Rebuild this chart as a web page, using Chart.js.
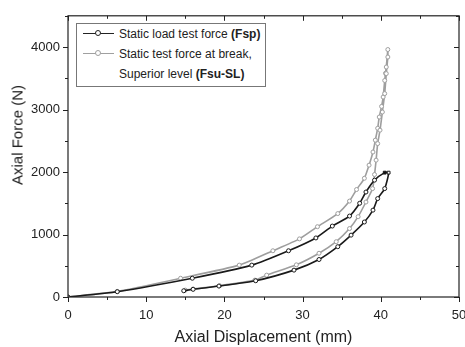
<!DOCTYPE html>
<html>
<head>
<meta charset="utf-8">
<script src="https://cdn.jsdelivr.net/npm/chart.js@4"></script>
<style>
  html, body { margin: 0; padding: 0; background: #fff; overflow: hidden; width: 465px; height: 347px; }
  #wrap { position: absolute; left: 0; top: 0; width: 480px; height: 347px; }
  .legend { position: absolute; left: 76px; top: 23px; width: 188px; height: 62px; border: 1px solid #777;
            font-family: "Liberation Sans", Arial, sans-serif; font-size: 12px; color: #222; background: #fff; }
  .row { position: absolute; left: 0; height: 20px; line-height: 20px; white-space: nowrap; }
  .swatch { position: absolute; left: 6px; top: 9px; width: 31px; height: 0; border-top: 1.5px solid #222; }
  .swatch i { position: absolute; left: 12px; top: -4px; width: 4px; height: 4px; border: 1px solid #222; border-radius: 50%; background: #fff; }
  .txt { position: absolute; left: 42px; top: 0; }
  .ytitle { position: absolute; left: 17px; top: 135px; transform: translate(-50%, -50%) rotate(-90deg);
            font-family: "Liberation Sans", Arial, sans-serif; font-size: 15px; color: #222; white-space: nowrap; }
</style>
</head>
<body>
<div id="wrap"><canvas id="chart" width="480" height="347"></canvas></div>
<div class="ytitle">Axial Force (N)</div>
<div class="legend">
  <div class="row" style="top:0px"><span class="swatch"><i></i></span><span class="txt">Static load test force <b>(Fsp)</b></span></div>
  <div class="row" style="top:20px"><span class="swatch" style="border-color:#a0a0a0"><i style="border-color:#a0a0a0"></i></span><span class="txt">Static test force at break,</span></div>
  <div class="row" style="top:40px"><span class="txt">Superior level <b>(Fsu-SL)</b></span></div>
</div>
<script>
// Fsp: loading branch then unloading branch
const fspLoadX = [0, 6.3, 15.9, 23.5, 28.2, 31.7, 33.8, 36.0, 37.3, 38.1, 39.2, 40.5];
const fspLoadY = [0, 85, 300, 510, 740, 945, 1135, 1295, 1500, 1680, 1870, 1990];
const fspUnloadX = [41.0, 40.5, 39.6, 39.0, 37.9, 36.2, 34.5, 32.1, 28.9, 24.0, 19.3, 16.0, 14.8];
const fspUnloadY = [1990, 1735, 1575, 1390, 1200, 990, 805, 600, 430, 260, 175, 123, 100];

// Fsu-SL
const fsuLoadX = [0, 6.3, 14.4, 21.9, 26.2, 29.6, 31.9, 34.5, 36.0, 36.9, 37.9, 38.5, 39.0, 39.3, 39.6, 39.8, 40.1, 40.3, 40.5, 40.6, 40.7, 40.9];
const fsuLoadY = [0, 90, 300, 510, 740, 930, 1125, 1335, 1535, 1720, 1900, 2110, 2320, 2510, 2700, 2880, 3050, 3200, 3465, 3580, 3680, 3960];
const fsuUnloadX = [40.9, 40.7, 40.5, 40.2, 39.9, 39.6, 39.4, 39.2, 38.95, 38.1, 37.1, 36.0, 34.3, 32.1, 29.2, 25.4, 23.9, 19.4, 16.0, 15.0];
const fsuUnloadY = [3840, 3575, 3255, 2960, 2670, 2455, 2190, 1960, 1735, 1520, 1285, 1095, 885, 700, 515, 350, 270, 180, 128, 110];

const xTicks = [0, 10, 20, 30, 40, 50];
const yTicks = [0, 1000, 2000, 3000, 4000];

function toPoints(xs, ys) {
  return xs.map((x, i) => ({ x: x, y: ys[i] }));
}

const fspPts = toPoints(fspLoadX, fspLoadY).concat(toPoints(fspUnloadX, fspUnloadY));
const fsuPts = toPoints(fsuLoadX, fsuLoadY).concat(toPoints(fsuUnloadX, fsuUnloadY));

const fspStyles = fspPts.map((p, i) => (i === fspLoadX.length - 1 || i === fspLoadX.length) ? 'rect' : 'circle');
const fspFill = fspPts.map((p, i) => i === fspLoadX.length - 1 ? '#111' : '#fff');

// frame + ticks on all four sides
const framePlugin = {
  id: 'frame',
  afterDraw(chart) {
    const ctx = chart.ctx;
    const a = chart.chartArea;
    const xs = chart.scales.x, ys = chart.scales.y;
    ctx.save();
    ctx.strokeStyle = '#222';
    ctx.lineWidth = 1.2;
    ctx.strokeRect(a.left, a.top, a.right - a.left, a.bottom - a.top);
    ctx.lineWidth = 1;
    ctx.beginPath();
    for (let v = 0; v <= 50; v += 5) {
      const px = Math.round(xs.getPixelForValue(v)) + 0.5;
      const len = v % 10 === 0 ? 5 : 3;
      ctx.moveTo(px, a.bottom); ctx.lineTo(px, a.bottom + len);
      ctx.moveTo(px, a.top); ctx.lineTo(px, a.top + len);
    }
    for (let v = 0; v <= 4500; v += 500) {
      const py = Math.round(ys.getPixelForValue(v)) + 0.5;
      const len = v % 1000 === 0 ? 5 : 3;
      ctx.moveTo(a.left, py); ctx.lineTo(a.left - len, py);
      ctx.moveTo(a.right, py); ctx.lineTo(a.right - len, py);
    }
    ctx.stroke();
    ctx.restore();
  }
};

new Chart(document.getElementById('chart'), {
  type: 'scatter',
  data: {
    datasets: [{
      label: 'Static load test force (Fsp)',
      data: fspPts,
      showLine: true,
      borderColor: '#1a1a1a',
      borderWidth: 1.6,
      tension: 0.2,
      pointRadius: 2,
      pointStyle: fspStyles,
      pointBackgroundColor: fspFill,
      pointBorderColor: '#1a1a1a',
      pointBorderWidth: 1,
      order: 1
    }, {
      label: 'Static test force at break, Superior level (Fsu-SL)',
      data: fsuPts,
      showLine: true,
      borderColor: '#9e9e9e',
      borderWidth: 1.6,
      tension: 0.2,
      pointRadius: 2,
      pointBackgroundColor: '#fff',
      pointBorderColor: '#9e9e9e',
      pointBorderWidth: 1,
      order: 2
    }]
  },
  options: {
    responsive: false,
    animation: false,
    layout: { padding: { left: 0, right: 21, top: 15, bottom: 0 } },
    plugins: { legend: { display: false }, tooltip: { enabled: false } },
    scales: {
      x: {
        type: 'linear', min: 0, max: 50,
        afterFit: s => { s.height = 50; },
        afterBuildTicks: s => { s.ticks = xTicks.map(v => ({ value: v })); },
        grid: { display: false, drawTicks: false },
        border: { display: false },
        ticks: { padding: 11, color: '#222', font: { family: 'Liberation Sans', size: 13 }, maxRotation: 0,
                 callback: v => String(v) },
        title: { display: true, text: 'Axial Displacement (mm)', color: '#222',
                 font: { family: 'Liberation Sans', size: 16 }, padding: { top: 0, bottom: 0 } }
      },
      y: {
        type: 'linear', min: 0, max: 4500,
        afterFit: s => { s.width = 68; },
        afterBuildTicks: s => { s.ticks = yTicks.map(v => ({ value: v })); },
        grid: { display: false, drawTicks: false },
        border: { display: false },
        ticks: { padding: 8, color: '#222', font: { family: 'Liberation Sans', size: 13 },
                 callback: v => String(v) }
      }
    }
  },
  plugins: [framePlugin]
});
</script>
</body>
</html>
